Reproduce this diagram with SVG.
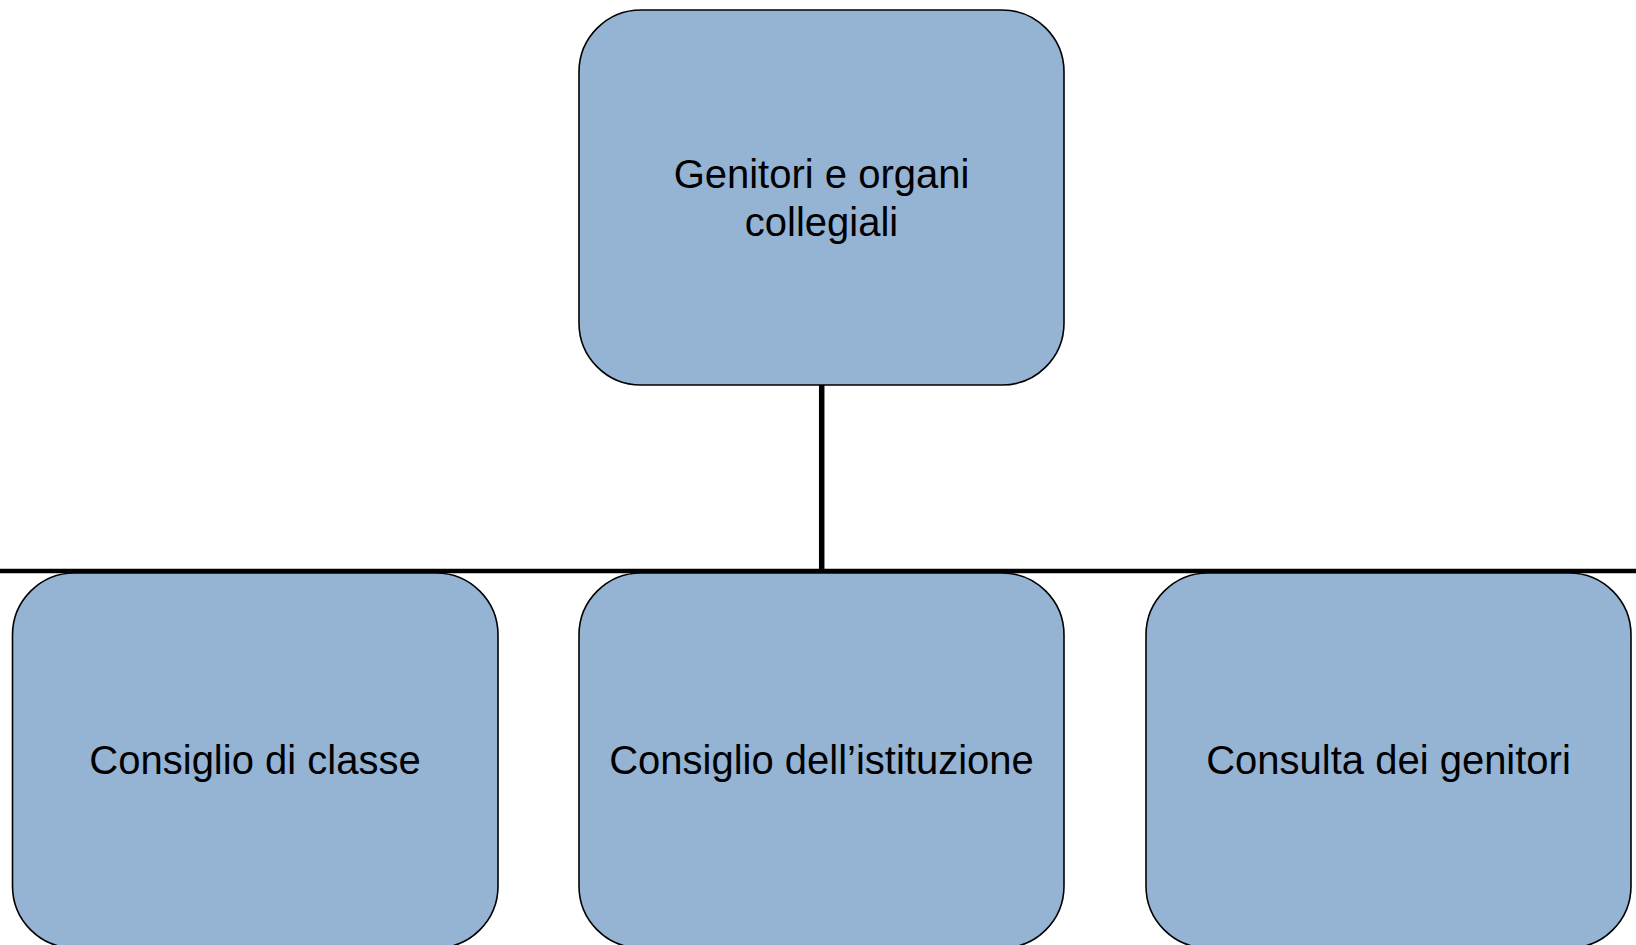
<svg xmlns="http://www.w3.org/2000/svg" width="1636" height="945" viewBox="0 0 1636 945">
<style>
.node{fill:#95B3D3;stroke:#000;stroke-width:1.6}
.lbl{font-family:"Liberation Sans",Arial,sans-serif;font-size:40px;fill:#000;text-anchor:middle}
.conn{stroke:#000;fill:none}
</style>
<rect width="1636" height="945" fill="#fff"/>
<g id="connectors">
<line class="conn" stroke-width="5.5" x1="821.7" y1="385" x2="821.7" y2="571"/>
<line class="conn" stroke-width="4.5" x1="0" y1="571" x2="1636" y2="571"/>
</g>
<g id="node-root">
<rect class="node" x="579" y="10" width="485" height="375" rx="62" ry="62"/>
<text class="lbl" x="821.5" y="188">Genitori e organi</text>
<text class="lbl" x="821.5" y="236">collegiali</text>
</g>
<g id="node-classe">
<rect class="node" x="12.5" y="573" width="485.5" height="375" rx="62" ry="62"/>
<text class="lbl" x="255" y="774">Consiglio di classe</text>
</g>
<g id="node-istituzione">
<rect class="node" x="579" y="573" width="485" height="375" rx="62" ry="62"/>
<text class="lbl" x="821.5" y="774">Consiglio dell’istituzione</text>
</g>
<g id="node-consulta">
<rect class="node" x="1146" y="573" width="485" height="375" rx="62" ry="62"/>
<text class="lbl" x="1388.5" y="774">Consulta dei genitori</text>
</g>
</svg>
